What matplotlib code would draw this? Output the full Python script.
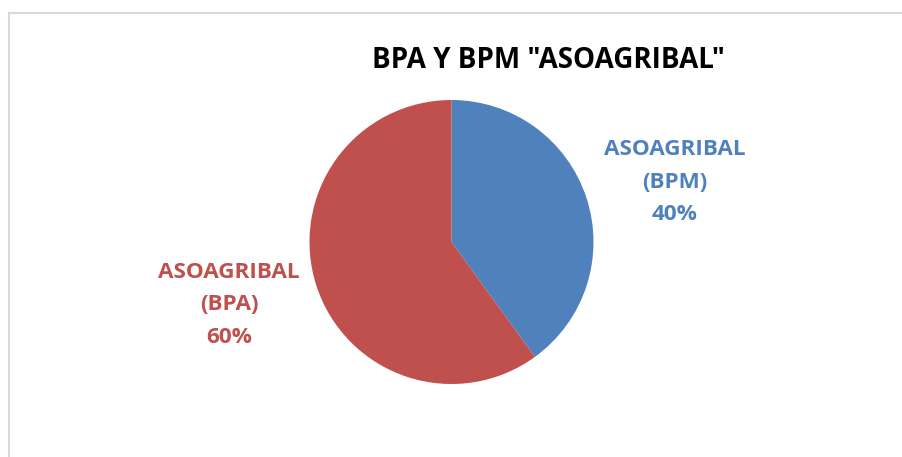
import matplotlib
matplotlib.use("Agg")
import matplotlib.pyplot as plt
from matplotlib.patches import Rectangle

W, H = 903, 457
categories = ["ASOAGRIBAL\n(BPM)", "ASOAGRIBAL\n(BPA)"]
values = [40, 60]
colors = ["#4F81BD", "#C0504D"]
title = 'BPA Y BPM "ASOAGRIBAL"'

fig = plt.figure(figsize=(W / 100, H / 100), dpi=100)
fig.patch.set_facecolor("white")

# border (cropped at right/bottom)
border = Rectangle((9 / W, -0.1), 1.2, 1 - 13 / H + 0.1, transform=fig.transFigure,
                   fill=False, edgecolor="#D9D9D9", linewidth=1.5)
fig.add_artist(border)

cx, cy, r = 451.5, 242, 142
ax = fig.add_axes([(cx - r) / W, 1 - (cy + r) / H, 2 * r / W, 2 * r / H])
ax.pie(values, colors=colors, startangle=90, counterclock=False, radius=1,
       wedgeprops=dict(linewidth=0))
ax.set_xlim(-1, 1)
ax.set_ylim(-1, 1)
ax.set_aspect("auto")
ax.axis("off")

font = "Open Sans"
fig.text(548 / W, 1 - 60 / H, title, ha="center", va="center", fontsize=20,
         fontweight="bold", family=font, color="black")

pos = [(674.5, 182), (229, 305)]
for cat, v, c, (x, y) in zip(categories, values, colors, pos):
    fig.text(x / W, 1 - y / H, f"{cat}\n{v}%", ha="center", va="center",
             fontsize=16.2, fontweight="bold", family=font, color=c,
             linespacing=1.7)

fig.savefig("out.png", dpi=100, facecolor="white")
